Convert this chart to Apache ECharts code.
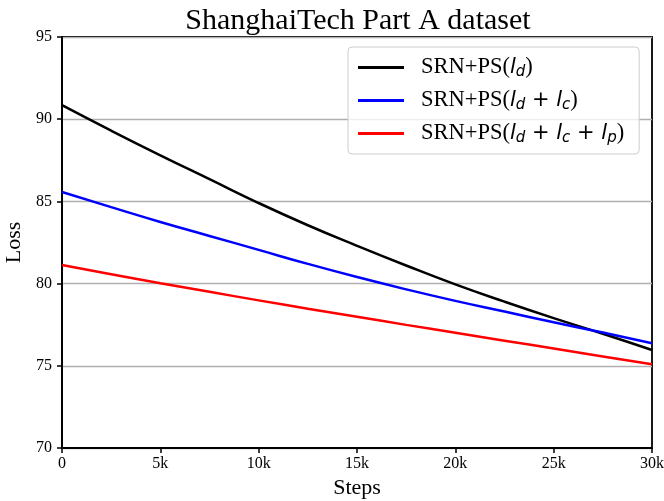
<!DOCTYPE html>
<html>
<head>
<meta charset="utf-8">
<script src="https://cdn.jsdelivr.net/npm/echarts@6/dist/echarts.min.js"></script>
<style>
  html, body { margin: 0; padding: 0; background: #fff; }
  #chart { width: 664px; height: 501px; }
</style>
</head>
<body>
<div id="chart"></div>
<script>
// steps, every 2.5k
const steps = [0, 2500, 5000, 7500, 10000, 12500, 15000, 17500, 20000, 22500, 25000, 27500, 30000]
const lossLd = [90.85, 89.3, 87.8, 86.35, 84.9, 83.55, 82.3, 81.1, 79.95, 78.9, 77.9, 76.95, 75.96]
const lossLdLc = [85.57, 84.65, 83.75, 82.9, 82.05, 81.2, 80.4, 79.65, 78.95, 78.3, 77.65, 77.02, 76.37]
const lossLdLcLp = [81.13, 80.57, 80.02, 79.5, 78.98, 78.47, 77.98, 77.49, 77.01, 76.53, 76.05, 75.57, 75.09]
const yTicks = [70, 75, 80, 85, 90, 95]

const serif = 'Liberation Serif'

function pairs(ys) {
  return steps.map((s, i) => [s, ys[i]])
}

// legend labels with math-ish parts
const legendRich = {
  'SRN+PS(l_d)': '{a|SRN+PS(}{i|l}{s|d}{a|)}',
  'SRN+PS(l_d+l_c)': '{a|SRN+PS(}{i|l}{s|d}{p| + }{i|l}{s|c}{a|)}',
  'SRN+PS(l_d+l_c+l_p)': '{a|SRN+PS(}{i|l}{s|d}{p| + }{i|l}{s|c}{p| + }{i|l}{s|p}{a|)}'
}

const chart = echarts.init(document.getElementById('chart'))

chart.setOption({
  backgroundColor: '#fff',
  animation: false,
  title: {
    text: 'ShanghaiTech Part A dataset',
    left: 353,
    textAlign: 'center',
    top: 1,
    textStyle: { fontFamily: serif, fontSize: 30, fontWeight: 'normal', color: '#000' }
  },
  grid: {
    left: 62,
    right: 12,
    top: 37,
    bottom: 53,
    outerBoundsMode: 'none',
    containLabel: false,
    show: true,
    borderColor: '#000',
    borderWidth: 1.8,
    backgroundColor: 'transparent'
  },
  legend: {
    left: 348,
    top: 47,
    orient: 'vertical',
    icon: 'rect',
    itemWidth: 46,
    itemHeight: 3,
    itemGap: 9,
    padding: [9, 15, 8, 10],
    backgroundColor: 'rgba(255,255,255,0.8)',
    borderColor: '#cccccc',
    borderWidth: 1,
    borderRadius: 4,
    formatter: name => legendRich[name],
    textStyle: {
      padding: [0, 0, 0, 12],
      rich: {
        a: { fontFamily: serif, fontSize: 22.5, color: '#000', lineHeight: 25 },
        i: { fontFamily: 'DejaVu Sans', fontStyle: 'italic', fontSize: 21, color: '#000', lineHeight: 25 },
        p: { fontFamily: 'DejaVu Sans', fontSize: 21, color: '#000', lineHeight: 25 },
        s: { fontFamily: 'DejaVu Sans', fontStyle: 'italic', fontSize: 15, color: '#000', lineHeight: 14, verticalAlign: 'bottom' }
      }
    }
  },
  xAxis: {
    type: 'value',
    min: 0,
    max: 30000,
    interval: 5000,
    name: 'Steps',
    nameLocation: 'middle',
    nameGap: 29,
    nameTextStyle: { fontFamily: serif, fontSize: 22, color: '#000' },
    axisLine: { lineStyle: { color: '#000', width: 1.8 } },
    axisTick: { length: 5, lineStyle: { color: '#000', width: 1.5 } },
    axisLabel: {
      fontFamily: serif,
      fontSize: 16,
      color: '#000',
      margin: 8,
      formatter: v => (v === 0 ? '0' : v / 1000 + 'k')
    },
    splitLine: { show: false }
  },
  yAxis: {
    type: 'value',
    min: yTicks[0],
    max: yTicks[yTicks.length - 1],
    interval: 5,
    name: 'Loss',
    nameLocation: 'middle',
    nameGap: 31,
    nameTextStyle: { fontFamily: serif, fontSize: 22, color: '#000' },
    axisLine: { lineStyle: { color: '#000', width: 1.8 } },
    axisTick: { length: 5, lineStyle: { color: '#000', width: 1.5 } },
    axisLabel: { fontFamily: serif, fontSize: 16, color: '#000', margin: 10 },
    splitLine: { lineStyle: { color: '#b0b0b0', width: 1.4 } }
  },
  series: [
    {
      name: 'SRN+PS(l_d)',
      type: 'line',
      data: pairs(lossLd),
      smooth: true,
      symbol: 'none',
      lineStyle: { color: '#000000', width: 2.5 },
      itemStyle: { color: '#000000' }
    },
    {
      name: 'SRN+PS(l_d+l_c)',
      type: 'line',
      data: pairs(lossLdLc),
      smooth: true,
      symbol: 'none',
      lineStyle: { color: '#0000ff', width: 2.5 },
      itemStyle: { color: '#0000ff' }
    },
    {
      name: 'SRN+PS(l_d+l_c+l_p)',
      type: 'line',
      data: pairs(lossLdLcLp),
      smooth: true,
      symbol: 'none',
      lineStyle: { color: '#ff0000', width: 2.5 },
      itemStyle: { color: '#ff0000' }
    }
  ]
})
</script>
</body>
</html>
